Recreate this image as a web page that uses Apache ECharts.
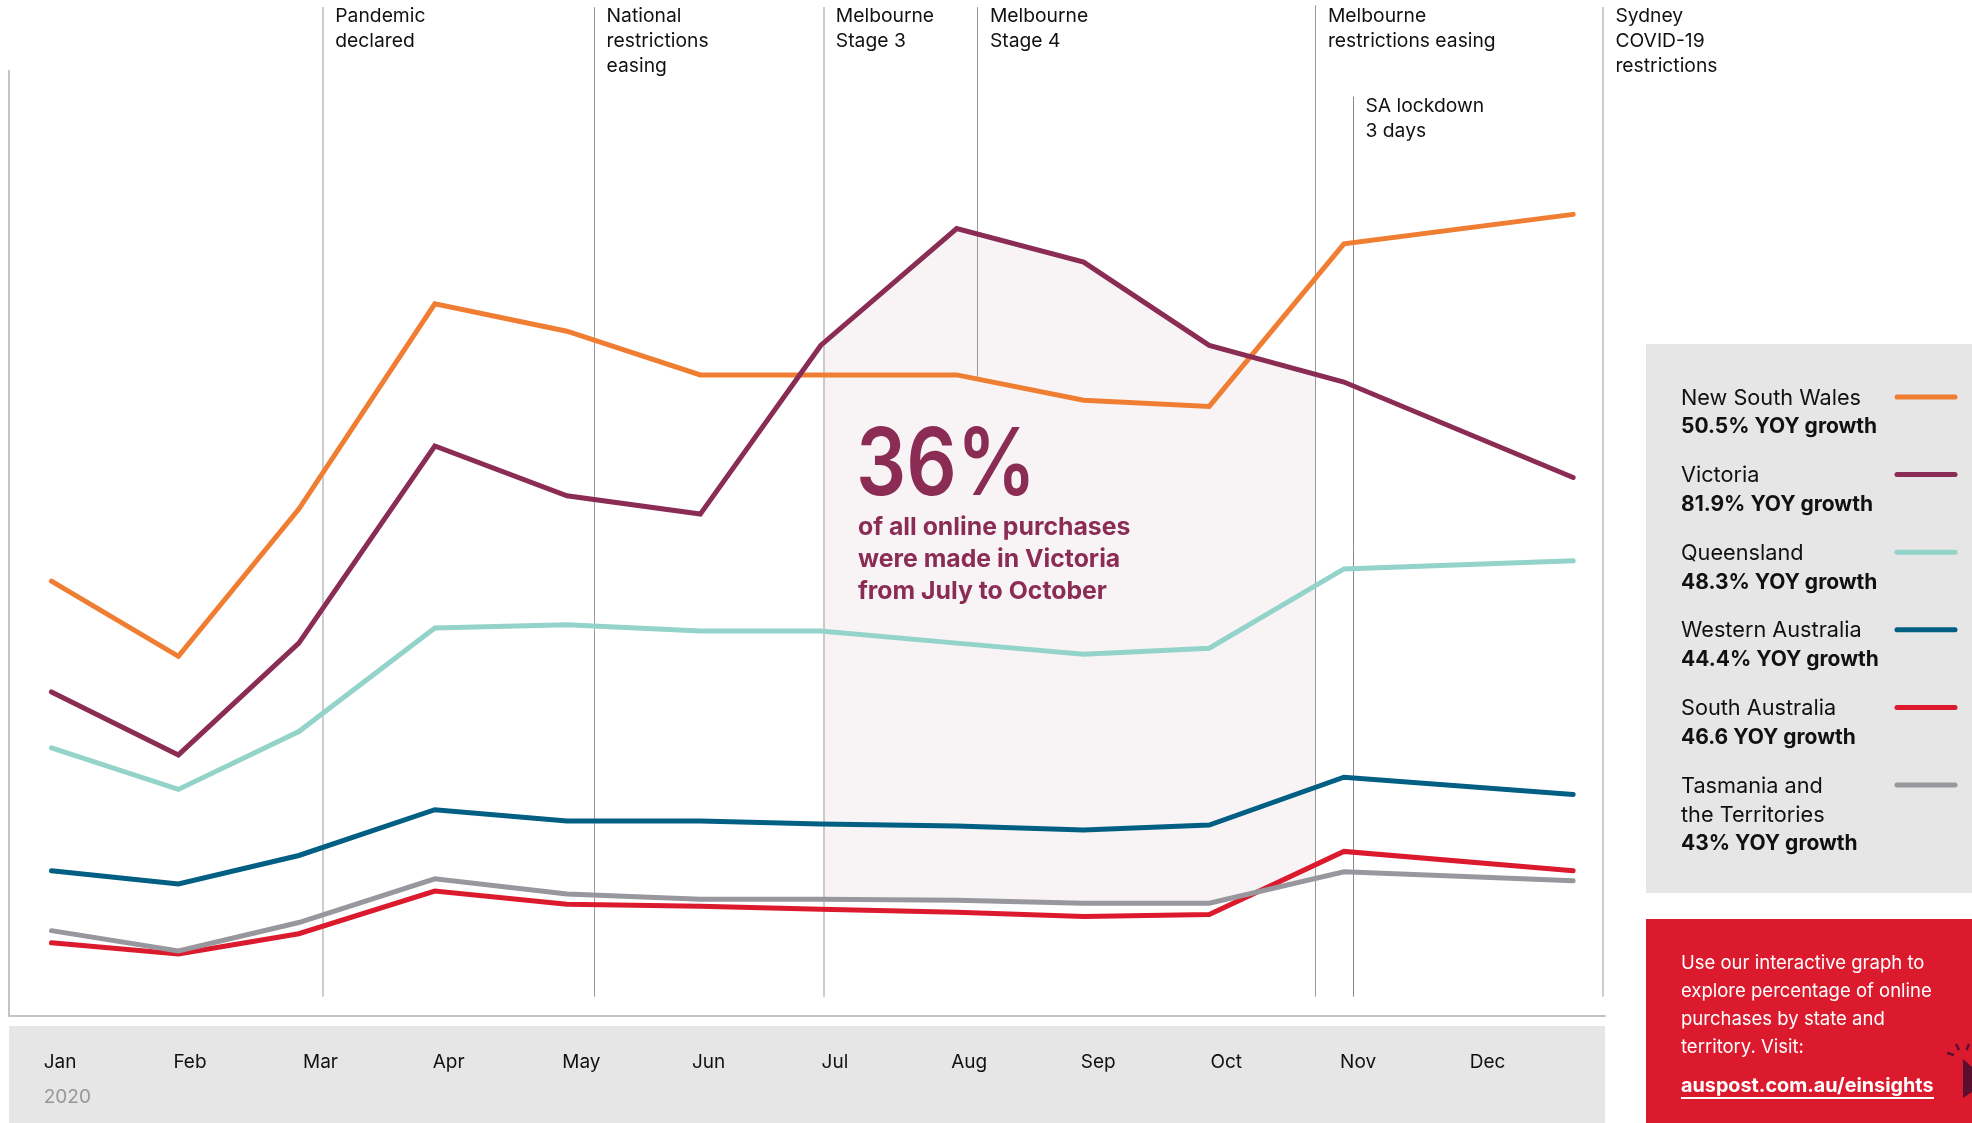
<!DOCTYPE html>
<html>
<head>
<meta charset="utf-8">
<title>Online purchases by state 2020</title>
<script src="https://cdn.jsdelivr.net/npm/echarts@6/dist/echarts.min.js"></script>
<style>
  html, body { margin: 0; padding: 0; background: #fff; }
  #chart { width: 1972px; height: 1123px; }
</style>
</head>
<body>
<div id="chart"></div>
<script>
// month labels along the bottom band
const months = ["Jan", "Feb", "Mar", "Apr", "May", "Jun", "Jul", "Aug", "Sep", "Oct", "Nov", "Dec"];
// the points do not sit under the month labels, so x is in months from the Jan label
const pointX = [0.06, 1.04, 1.97, 3.02, 4.04, 5.07, 6.0, 7.05, 8.03, 9.0, 10.04, 11.81];

// no scale on the original, values are read as 0-100 of the plot height
const nsw = [42.8, 35.4, 49.9, 70.1, 67.4, 63.1, 63.1, 63.1, 60.6, 60.0, 76.0, 78.9];
const vic = [31.9, 25.7, 36.7, 56.1, 51.2, 49.4, 66.0, 77.5, 74.2, 66.0, 62.4, 53.0];
const qld = [26.4, 22.3, 28.0, 38.2, 38.5, 37.9, 37.9, 36.7, 35.6, 36.2, 44.0, 44.8];
const wa = [14.3, 13.0, 15.8, 20.3, 19.2, 19.2, 18.9, 18.7, 18.3, 18.8, 23.5, 21.8];
const sa = [7.2, 6.1, 8.1, 12.3, 11.0, 10.8, 10.5, 10.2, 9.8, 10.0, 16.2, 14.3];
const tas = [8.4, 6.4, 9.2, 13.5, 12.0, 11.5, 11.5, 11.4, 11.1, 11.1, 14.2, 13.3];

const seriesNames = ["New South Wales", "Victoria", "Queensland", "Western Australia", "South Australia", "Tasmania and\nthe Territories"];
const growth = ["50.5% YOY growth", "81.9% YOY growth", "48.3% YOY growth", "44.4% YOY growth", "46.6 YOY growth", "43% YOY growth"];
const colors = ["#F07E32", "#8A2C54", "#93D3C9", "#005F83", "#DC1A2E", "#98979D"];

// July to October highlight: Victoria on top, Tasmania underneath
const shadeTop = [[6.02, 66.3], [7.05, 77.5], [8.03, 74.2], [9.0, 66.0], [9.82, 63.2]];
const shadeBottom = [[9.82, 13.5], [9.0, 11.1], [8.03, 11.1], [7.05, 11.4], [6.02, 11.5]];

// event lines
const eventNames = ["Pandemic\ndeclared", "National\nrestrictions\neasing", "Melbourne\nStage 3", "Melbourne\nStage 4", "Melbourne\nrestrictions easing", "SA lockdown\n3 days", "Sydney\nCOVID-19\nrestrictions"];
const eventX = [2.155, 4.25, 6.02, 7.21, 9.82, 10.11, 12.04];
const eventTop = [99.3, 99.3, 99.3, 99.3, 99.5, 90.5, 99.3];
const eventLabelY = [99.6, 99.6, 99.6, 99.6, 99.6, 90.7, 99.6];
const eventBottom = [1.9, 1.9, 1.9, 62.9, 1.9, 1.9, 1.9];
const eventColor = ["#BDBDBD", "#999999", "#BDBDBD", "#999999", "#999999", "#888888", "#BDBDBD"];
const eventWidth = [1.5, 1, 1.5, 1, 1, 1, 1.5];

const calloutLines = ["of all online purchases", "were made in Victoria", "from July to October"];
const promoLines = ["Use our interactive graph to", "explore percentage of online", "purchases by state and", "territory. Visit:"];

const FONT = "Inter";
const xMin = -0.268;
const xMax = 12.056;
const yMax = 100;

const chart = echarts.init(document.getElementById("chart"));

function toPairs(ys) {
  return ys.map((y, i) => [pointX[i], y]);
}

// panels, legend and the promo box
function buildGraphic() {
  const items = [
    { type: "rect", z: -10, shape: { x: 9, y: 1026, width: 1596, height: 97 }, style: { fill: "#E6E6E7" } },
    { type: "rect", z: -10, shape: { x: 1646, y: 344, width: 326, height: 549 }, style: { fill: "#E6E6E7" } },
    { type: "rect", z: -10, shape: { x: 1646, y: 919, width: 326, height: 204 }, style: { fill: "#DC1A2E" } },
    { type: "text", x: 43.75, y: 1097, style: { text: "2020", font: "19px " + FONT, fill: "#97979B", verticalAlign: "middle" } },
    // the original big figure is set tighter than Inter, so squeeze it
    { type: "text", z: 20, x: 856, y: 467, scaleX: 0.85, style: { text: "36%", font: "600 93px " + FONT, fill: colors[1], verticalAlign: "middle" } }
  ];
  calloutLines.forEach((t, i) => {
    items.push({ type: "text", z: 20, x: 858, y: 527.5 + i * 32, style: { text: t, font: "700 24.8px " + FONT, fill: colors[1], verticalAlign: "middle" } });
  });
  let y = 397;
  seriesNames.forEach((name, i) => {
    items.push({ type: "line", shape: { x1: 1897, y1: y, x2: 1955, y2: y }, style: { stroke: colors[i], lineWidth: 5, lineCap: "round" } });
    const lines = name.split("\n");
    lines.forEach((t, j) => {
      items.push({ type: "text", x: 1681, y: y + 1 + j * 29, style: { text: t, font: "21.7px " + FONT, fill: "#111", verticalAlign: "middle" } });
    });
    items.push({ type: "text", x: 1681, y: y + 1 + lines.length * 29, style: { text: growth[i], font: "700 21px " + FONT, fill: "#111", verticalAlign: "middle" } });
    y += 77.6;
  });
  promoLines.forEach((t, i) => {
    items.push({ type: "text", x: 1681, y: 963.5 + i * 28, style: { text: t, font: "18.5px " + FONT, fill: "#fff", verticalAlign: "middle" } });
  });
  items.push({ type: "text", x: 1681, y: 1086, style: { text: "auspost.com.au/einsights", font: "700 19.8px " + FONT, fill: "#fff", verticalAlign: "middle" } });
  items.push({ type: "rect", shape: { x: 1681, y: 1097, width: 253, height: 2 }, style: { fill: "#fff" } });
  // pointer in the corner of the promo box
  items.push({ type: "polygon", shape: { points: [[1963, 1059], [1972, 1067], [1972, 1092], [1963, 1098]] }, style: { fill: "#5A0F2E" } });
  [[1947, 1053, 1954, 1055], [1956, 1044, 1959, 1050], [1969, 1044, 1966.5, 1050]].forEach(r => {
    items.push({ type: "line", shape: { x1: r[0], y1: r[1], x2: r[2], y2: r[3] }, style: { stroke: "#5A0F2E", lineWidth: 2.5 } });
  });
  return items;
}

const lineSeries = [nsw, vic, qld, wa, sa, tas].map((values, i) => ({
  name: seriesNames[i],
  type: "line",
  z: 5,
  xAxisIndex: 0,
  yAxisIndex: 0,
  data: toPairs(values),
  symbol: "none",
  color: colors[i],
  lineStyle: { width: 5, color: colors[i], cap: "round", join: "miter" }
}));

const option = {
  animation: false,
  graphic: { elements: buildGraphic() },
  grid: [
    { left: 9, right: 367, top: 0, bottom: 107 },
    { left: 43.75, top: 1040, width: 1426, height: 1 }
  ],
  xAxis: [
    {
      type: "value",
      min: xMin,
      max: xMax,
      axisLabel: { show: false },
      axisTick: { show: false },
      splitLine: { show: false },
      axisLine: { show: true, lineStyle: { color: "#C4C4C4", width: 2 } }
    },
    {
      type: "category",
      gridIndex: 1,
      boundaryGap: false,
      data: months,
      axisLine: { show: false },
      axisTick: { show: false },
      axisLabel: { interval: 0, align: "left", verticalAlign: "middle", margin: 21, color: "#111", fontFamily: FONT, fontSize: 19 }
    }
  ],
  yAxis: [
    { type: "value", min: 0, max: yMax, show: false },
    { type: "value", gridIndex: 1, show: false }
  ],
  series: [
    {
      name: "Highlight",
      type: "custom",
      z: 1,
      silent: true,
      data: [[0, 0]],
      renderItem: function(params, api) {
        const points = shadeTop.concat(shadeBottom).map(p => api.coord(p));
        return { type: "polygon", shape: { points: points }, style: { fill: "#F8F4F6" } };
      }
    },
    {
      name: "Events",
      type: "line",
      z: 2,
      data: [],
      silent: true,
      markLine: {
        silent: true,
        animation: false,
        symbol: "none",
        label: { show: false },
        data: eventX.map((x, i) => [
          { coord: [x, eventBottom[i]], lineStyle: { color: eventColor[i], width: eventWidth[i], type: "solid" } },
          { coord: [x, eventTop[i]] }
        ]).concat([[
          // left axis rule stops short of the top
          { coord: [xMin, 0], lineStyle: { color: "#C4C4C4", width: 2, type: "solid" } },
          { coord: [xMin, 93.1] }
        ]])
      }
    },
    {
      name: "Event labels",
      type: "scatter",
      z: 6,
      silent: true,
      symbolSize: 1,
      itemStyle: { color: "transparent", opacity: 1 },
      data: eventNames.map((n, i) => ({ name: n, value: [eventX[i], eventLabelY[i]] })),
      label: {
        show: true,
        formatter: "{b}",
        position: [13, 0],
        align: "left",
        verticalAlign: "top",
        color: "#111",
        opacity: 1,
        fontFamily: FONT,
        fontSize: 19.3,
        lineHeight: 25
      }
    }
  ].concat(lineSeries)
};

chart.setOption(option);
</script>
</body>
</html>
